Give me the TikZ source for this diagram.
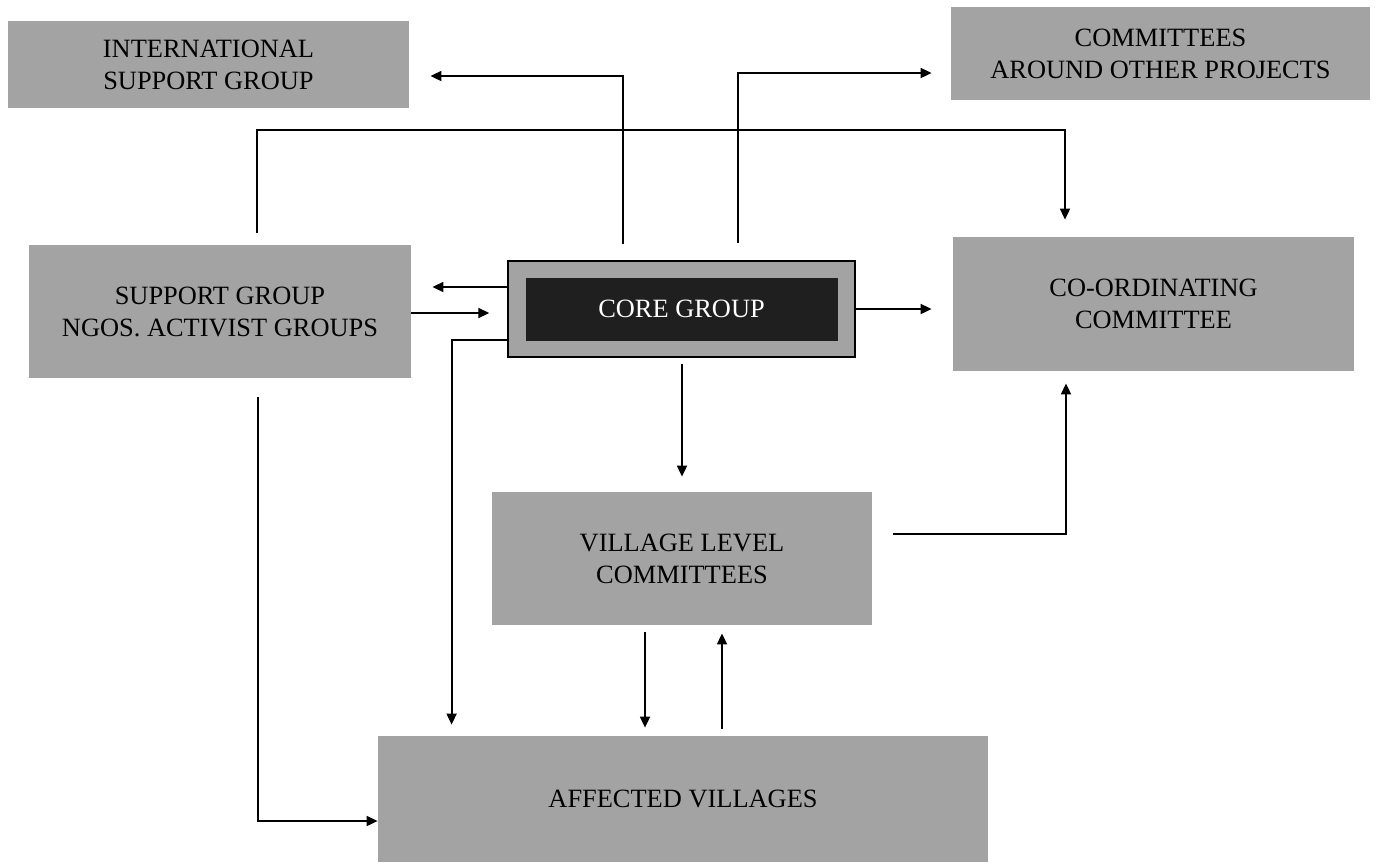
\documentclass[tikz,border=0pt]{standalone}
\usepackage{fontspec}
\setmainfont{Liberation Serif}
\usetikzlibrary{arrows.meta}

\begin{document}
\begin{tikzpicture}[x=0.5pt,y=-0.5pt,
        box/.style={rectangle,fill=black!36,inner sep=0pt,align=center,
            font=\fontsize{13.2}{16}\selectfont},
        link/.style={line width=0.9pt,-{Triangle[length=5.5pt,width=5pt]}}]
        \useasboundingbox (0,0) rectangle (1380,864);

        \coordinate (i) at (208.5,64.5);
        \coordinate (o) at (1160.5,53.5);
        \coordinate (s) at (220,311.5);
        \coordinate (c) at (681.5,309);
        \coordinate (k) at (1153.5,304);
        \coordinate (v) at (682,558.5);
        \coordinate (a) at (683,799);

        \node[box,minimum width=200.5pt,minimum height=43.5pt] (intl) at (i){INTERNATIONAL\\SUPPORT GROUP};
        \node[box,minimum width=209.5pt,minimum height=46.5pt] (other) at (o){COMMITTEES\\AROUND OTHER PROJECTS};
        \node[box,minimum width=191pt,minimum height=66.5pt] (supp) at (s){SUPPORT GROUP\\NGOS. ACTIVIST GROUPS};
        \node[box,draw,line width=0.7pt,minimum width=173.5pt,minimum height=48pt] (core) at (c){};
        \node[box,fill=black!88,text=white,minimum width=156pt,minimum height=31.5pt] (coreIn) at (c){CORE GROUP};
        \node[box,minimum width=200.5pt,minimum height=67pt] (coord) at (k){CO-ORDINATING\\COMMITTEE};
        \node[box,minimum width=190pt,minimum height=66.5pt] (vlc) at (v){VILLAGE LEVEL\\COMMITTEES};
        \node[box,minimum width=305pt,minimum height=63pt] (aff) at (a){AFFECTED VILLAGES};

        \draw[link] ([shift={(-58.5,-16)}]core.north) |- ([shift={(21,11.5)}]intl.east);
        \draw[link] ([shift={(56.5,-17)}]core.north) |- ([shift={(-19,19.5)}]other.west);
        \draw[link] ([shift={(37,-12)}]supp.north) -- ++(0,-103) -| ([shift={(-88.5,-17)}]coord.north);
        \draw[link] ([shift={(0,-22)}]core.west) -- ([shift={(21,-24.5)}]supp.east);
        \draw[link] ([shift={(0,1.5)}]supp.east) -- ([shift={(-18,4)}]core.west);
        \draw[link] ([shift={(0,31)}]core.west) -| ([shift={(74,-11)}]aff.north west);
        \draw[link] (core.east) -- ([shift={(-21,5)}]coord.west);
        \draw[link] ([shift={(0.5,6)}]core.south) -- ([shift={(0,-15)}]vlc.north);
        \draw[link] ([shift={(21,-24.5)}]vlc.east) -| ([shift={(-87.5,12)}]coord.south);
        \draw[link] ([shift={(-37,7)}]vlc.south) -- ([shift={(-38,-8)}]aff.north);
        \draw[link] ([shift={(39,-7)}]aff.north) -- ([shift={(40,8)}]vlc.south);
        \draw[link] ([shift={(38,19)}]supp.south) |- ([shift={(0,22)}]aff.west);
    \end{tikzpicture}
\end{document}
